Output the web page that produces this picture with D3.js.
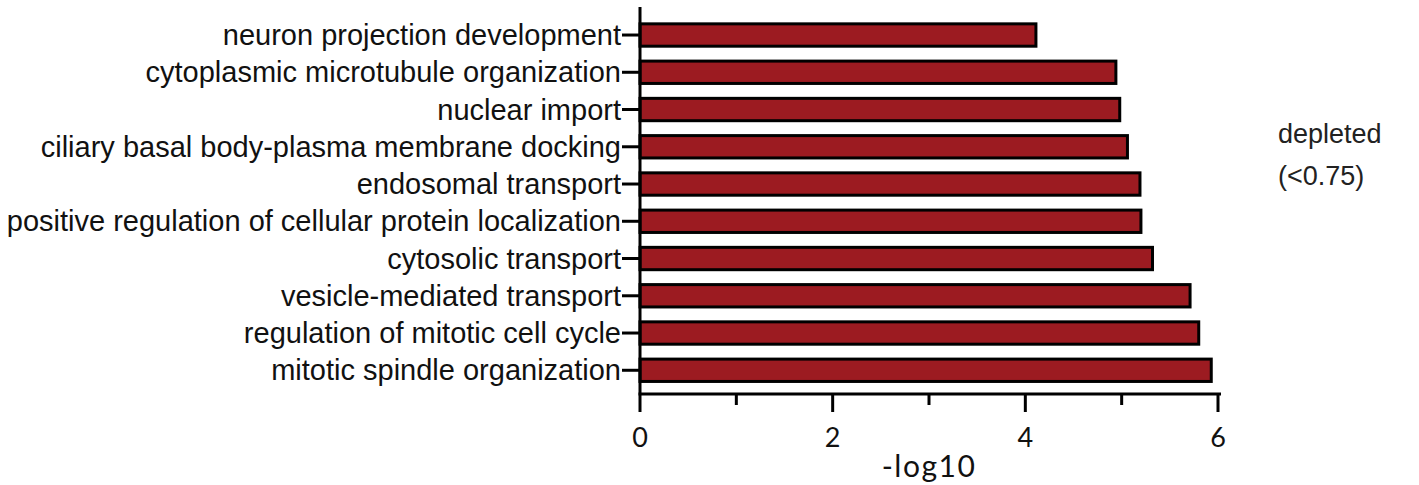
<!DOCTYPE html>
<html>
<head>
<meta charset="utf-8">
<script src="https://cdn.jsdelivr.net/npm/d3@7"></script>
<style>
  html, body { margin: 0; padding: 0; background: #fff; }
  svg { display: block; }
</style>
</head>
<body>
<svg id="chart" width="1419" height="485"></svg>
<script>
// GO terms (top to bottom) and their -log10 enrichment values
const terms = [
  "neuron projection development",
  "cytoplasmic microtubule organization",
  "nuclear import",
  "ciliary basal body-plasma membrane docking",
  "endosomal transport",
  "positive regulation of cellular protein localization",
  "cytosolic transport",
  "vesicle-mediated transport",
  "regulation of mitotic cell cycle",
  "mitotic spindle organization"
];
const values = [4.11, 4.94, 4.98, 5.06, 5.19, 5.20, 5.32, 5.71, 5.80, 5.93];
const xTicks = [0, 1, 2, 3, 4, 5, 6];
const xTickLabels = ["0", "2", "4", "6"];
const xTitle = "-log10";
const legendLines = ["depleted", "(<0.75)"];

const svg = d3.select("#chart");
const plotLeft = 640, plotRight = 1218, plotTop = 16.4, plotBottom = 388.9, axisY = 394;

const x = d3.scaleLinear().domain([0, 6]).range([plotLeft, plotRight]);
const y = d3.scaleBand().domain(terms).range([plotTop, plotBottom])
  .paddingInner(0.4).paddingOuter(0.2);

// bars
svg.append("g").selectAll("rect")
  .data(terms)
  .join("rect")
  .attr("x", x(0))
  .attr("y", d => y(d))
  .attr("width", (d, i) => x(values[i]) - x(0))
  .attr("height", y.bandwidth())
  .attr("fill", "#9c1b21")
  .attr("stroke", "#000")
  .attr("stroke-width", 3);

// y axis
const yAxis = svg.append("g");
yAxis.append("line")
  .attr("x1", plotLeft).attr("x2", plotLeft)
  .attr("y1", 7).attr("y2", axisY)
  .attr("stroke", "#000").attr("stroke-width", 3);
yAxis.selectAll("line.tick")
  .data(terms)
  .join("line")
  .attr("class", "tick")
  .attr("x1", plotLeft - 18).attr("x2", plotLeft)
  .attr("y1", d => y(d) + y.bandwidth() / 2)
  .attr("y2", d => y(d) + y.bandwidth() / 2)
  .attr("stroke", "#000").attr("stroke-width", 3);
yAxis.selectAll("text")
  .data(terms)
  .join("text")
  .attr("x", plotLeft - 19)
  .attr("y", d => y(d) + y.bandwidth() / 2)
  .attr("dy", "0.35em")
  .attr("text-anchor", "end")
  .attr("font-family", "'Liberation Sans', Arial, sans-serif")
  .attr("font-size", 29)
  .attr("fill", "#111")
  .text(d => d);

// x axis
const xAxis = svg.append("g");
xAxis.append("line")
  .attr("x1", plotLeft - 1.5).attr("x2", plotRight + 3)
  .attr("y1", axisY).attr("y2", axisY)
  .attr("stroke", "#000").attr("stroke-width", 3);
xAxis.selectAll("line.tick")
  .data(xTicks)
  .join("line")
  .attr("class", "tick")
  .attr("x1", d => x(d)).attr("x2", d => x(d))
  .attr("y1", axisY)
  .attr("y2", d => axisY + (d % 2 === 0 ? 18 : 11))
  .attr("stroke", "#000").attr("stroke-width", 3);
xAxis.selectAll("text")
  .data(xTickLabels)
  .join("text")
  .attr("x", d => x(+d))
  .attr("y", 447)
  .attr("text-anchor", "middle")
  .attr("font-family", "Lato, 'Open Sans', sans-serif")
  .attr("font-size", 27)
  .attr("fill", "#111")
  .text(d => d);
xAxis.append("text")
  .attr("x", x(3))
  .attr("y", 477)
  .attr("text-anchor", "middle")
  .attr("font-family", "Lato, 'Open Sans', sans-serif")
  .attr("font-size", 30)
  .attr("letter-spacing", 1.5)
  .attr("fill", "#111")
  .text(xTitle);

// annotation to the right of the bars
svg.append("g").selectAll("text")
  .data(legendLines)
  .join("text")
  .attr("x", 1278)
  .attr("y", (d, i) => 143 + i * 42)
  .attr("font-family", "'Liberation Sans', Arial, sans-serif")
  .attr("font-size", 27)
  .attr("fill", "#222")
  .text(d => d);
</script>
</body>
</html>
